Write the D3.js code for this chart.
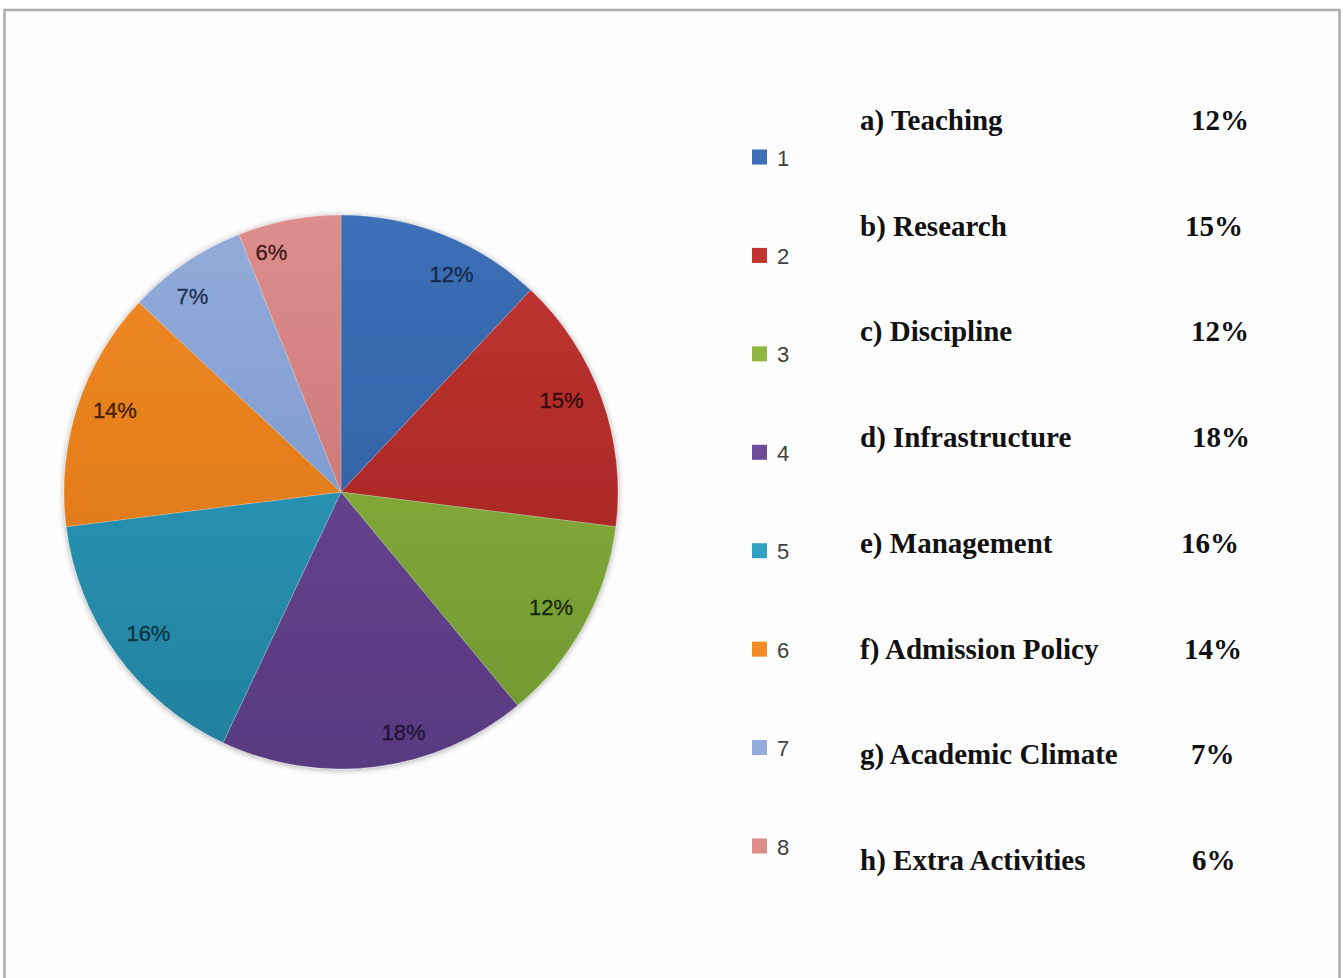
<!DOCTYPE html>
<html>
<head>
<meta charset="utf-8">
<script src="https://cdn.jsdelivr.net/npm/d3@7"></script>
<style>
  html, body { margin: 0; padding: 0; background: #fff; }
  svg { display: block; }
</style>
</head>
<body>
<svg id="chart" width="1343" height="978"></svg>
<script>
// ---- data ----
const categories = ["1", "2", "3", "4", "5", "6", "7", "8"];
const values = [12, 15, 12, 18, 16, 14, 7, 6];
const descriptions = ["a) Teaching", "b) Research", "c) Discipline", "d) Infrastructure",
                      "e) Management", "f) Admission Policy", "g) Academic Climate", "h) Extra Activities"];
const descPercents = ["12%", "15%", "12%", "18%", "16%", "14%", "7%", "6%"];

// ---- styles / layout ----
const colorsLight = ["#3c6fb6", "#c23431", "#92b842", "#6f4c98", "#31a2c3", "#f28c26", "#93acd9", "#dc8e8c"];
const colorsDark  = ["#2a5a9b", "#982320", "#6f9630", "#573a80", "#217f9d", "#d66e10", "#6f8ec7", "#c06868"];
const labelColors = ["#17294a", "#360c0b", "#1b290a", "#201634", "#0b3442", "#452205", "#213357", "#461b1b"];
// best-fit label nudges (px) relative to the slice centroid
const labelNudge = [[21, 8], [-8, -9], [-3, -2], [32, -1], [4, -1], [5, -6], [-12, 5], [-24, -1]];
const pctX = [1191, 1185, 1191, 1192, 1181, 1184, 1191, 1192];

const svg = d3.select("#chart");
const defs = svg.append("defs");

// frame
svg.append("rect")
  .attr("x", 4.5).attr("y", 10).attr("width", 1335).attr("height", 1000)
  .attr("fill", "#fdfdfd").attr("stroke", "#aaaaaa").attr("stroke-width", 2.5);

// pie geometry
const cx = 341, cy = 492, R = 277;

// shadow filter
const f = defs.append("filter").attr("id", "shadow").attr("x", "-10%").attr("y", "-10%")
  .attr("width", "120%").attr("height", "120%");
f.append("feGaussianBlur").attr("in", "SourceAlpha").attr("stdDeviation", 3).attr("result", "b");
f.append("feOffset").attr("in", "b").attr("dx", 0).attr("dy", 1).attr("result", "o");
f.append("feComponentTransfer").attr("in", "o").attr("result", "s")
  .append("feFuncA").attr("type", "linear").attr("slope", 0.35);
const m = f.append("feMerge");
m.append("feMergeNode").attr("in", "s");
m.append("feMergeNode").attr("in", "SourceGraphic");

// gradients (top lighter, bottom darker) in pie-local coordinates
categories.forEach((c, i) => {
  const g = defs.append("linearGradient").attr("id", "grad" + i)
    .attr("gradientUnits", "userSpaceOnUse")
    .attr("x1", 0).attr("y1", -R).attr("x2", 0).attr("y2", R);
  g.append("stop").attr("offset", "0%").attr("stop-color", colorsLight[i]);
  g.append("stop").attr("offset", "100%").attr("stop-color", colorsDark[i]);
});

const pie = d3.pie().sort(null).value(d => d.v);
const data = categories.map((c, i) => ({ c, v: values[i], i }));
const arcs = pie(data);
const arc = d3.arc().innerRadius(0).outerRadius(R);
const labelArc = d3.arc().innerRadius(243).outerRadius(243);
const total = d3.sum(values);

const g = svg.append("g").attr("transform", `translate(${cx},${cy})`);
g.append("g").attr("filter", "url(#shadow)")
  .selectAll("path").data(arcs).join("path")
  .attr("d", arc)
  .attr("fill", d => `url(#grad${d.data.i})`)
  .attr("stroke", "rgba(255,255,255,0.25)").attr("stroke-width", 0.8);

g.selectAll("text.lbl").data(arcs).join("text")
  .attr("class", "lbl")
  .attr("x", d => labelArc.centroid(d)[0] + labelNudge[d.data.i][0])
  .attr("y", d => labelArc.centroid(d)[1] + labelNudge[d.data.i][1])
  .attr("text-anchor", "middle")
  .attr("dominant-baseline", "central")
  .attr("font-family", "Liberation Sans, Arial, sans-serif")
  .attr("font-size", 22)
  .attr("fill", d => labelColors[d.data.i])
  .attr("stroke", d => labelColors[d.data.i])
  .attr("stroke-width", 0.35)
  .text(d => Math.round(d.data.v / total * 100) + "%");

// legend
const legY = d3.scalePoint().domain(categories).range([157, 846]);
const leg = svg.append("g");
leg.selectAll("rect").data(categories).join("rect")
  .attr("x", 752).attr("y", d => legY(d) - 7.5)
  .attr("width", 15).attr("height", 15)
  .attr("fill", (d, i) => colorsLight[i]);
leg.selectAll("text").data(categories).join("text")
  .attr("x", 777).attr("y", d => legY(d) + 1)
  .attr("dominant-baseline", "central")
  .attr("font-family", "Liberation Sans, Arial, sans-serif")
  .attr("font-size", 22).attr("fill", "#404040")
  .text(d => d);

// description table
const descY = d3.scalePoint().domain(descriptions).range([120, 860]);
const tbl = svg.append("g")
  .attr("font-family", "Liberation Serif, Times New Roman, serif")
  .attr("font-weight", "bold").attr("font-size", 29).attr("fill", "#111");
tbl.selectAll("text.d").data(descriptions).join("text")
  .attr("class", "d")
  .attr("x", 860).attr("y", d => descY(d))
  .attr("dominant-baseline", "central")
  .attr("textLength", null)
  .text(d => d);
tbl.selectAll("text.p").data(descPercents).join("text")
  .attr("class", "p")
  .attr("x", (d, i) => pctX[i]).attr("y", (d, i) => descY(descriptions[i]))
  .attr("dominant-baseline", "central")
  .text(d => d);
</script>
</body>
</html>
